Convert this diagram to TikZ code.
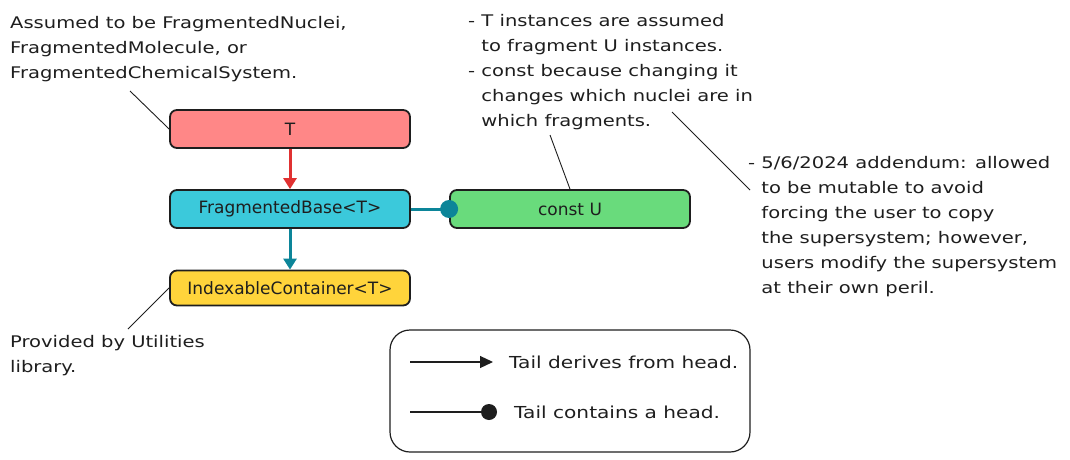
\documentclass[tikz,border=0pt]{standalone}
\usepackage{fontspec}
\setmainfont{DejaVu Sans}
\newfontfamily\notefont[FakeStretch=1.22]{DejaVu Sans}
\usetikzlibrary{arrows.meta}
\definecolor{ink}{HTML}{1E1E1E}
\definecolor{redfill}{HTML}{FF8787}
\definecolor{redline}{HTML}{E03131}
\definecolor{cyanfill}{HTML}{3BC9DB}
\definecolor{greenfill}{HTML}{69DB7C}
\definecolor{yellowfill}{HTML}{FFD43B}
\definecolor{tealline}{HTML}{0C8599}
\tikzset{
  txt/.style={font=\notefont\fontsize{16}{25}\selectfont, text=ink},
  boxnode/.style={draw=ink, line width=1.8pt, rounded corners=7pt, minimum width=240pt,
     minimum height=38pt, inner sep=0pt, font=\fontsize{17}{20}\selectfont, text=ink},
  note/.style={txt, anchor=north west, align=left, inner sep=0pt},
  leader/.style={draw=ink, line width=0.9pt},
  derives/.style={line width=3pt, -{Triangle[length=11pt,width=13pt]}},
}
\begin{document}
\begin{tikzpicture}[x=1pt,y=-1pt]
\useasboundingbox (0,0) rectangle (1070,460);
% boxes
\node[boxnode, fill=redfill] (T) at (290,129) {T};
\node[boxnode, fill=cyanfill] (FB) at (290,209) {FragmentedBase<T>};
\node[boxnode, fill=greenfill] (U) at (570,209) {const U};
\node[boxnode, fill=yellowfill, minimum height=35pt] (IC) at (290,288) {IndexableContainer<T>};
% arrows
\draw[derives, draw=redline, fill=redline] (T.south) -- (FB.north);
\draw[derives, draw=tealline, fill=tealline] (FB.south) -- (IC.north);
\draw[line width=3pt, draw=tealline] (FB.east) -- (U.west);
\fill[tealline] (U.west) circle (9pt);
% notes
\node[note] (n1) at (10,16) {Assumed to be FragmentedNuclei,\\FragmentedMolecule, or\\FragmentedChemicalSystem.};
\node[note] (n2) at (468,14) {- T instances are assumed\\\phantom{- }to fragment U instances.\\- const because changing it\\\phantom{- }changes which nuclei are in\\\phantom{- }which fragments.};
\node[note] (n3) at (748,156) {- 5/6/2024 addendum: allowed\\\phantom{- }to be mutable to avoid\\\phantom{- }forcing the user to copy\\\phantom{- }the supersystem; however,\\\phantom{- }users modify the supersystem\\\phantom{- }at their own peril.};
\node[note] (n4) at (10,335) {Provided by Utilities\\library.};
% leaders
\coordinate (c1) at (130,91);
\draw[leader] (c1) -- (T.west);
\coordinate (c2) at (550,135);
\draw[leader] (c2) -- (U.north);
\coordinate (c3) at (672,112);
\coordinate (c4) at (750,190);
\draw[leader] (c3) -- (c4);
\coordinate (c5) at (128,329);
\draw[leader] (c5) -- (IC.west);
% legend
\node[draw=ink, line width=1.2pt, rounded corners=20pt, minimum width=360pt, minimum height=122pt] (L) at (570,391) {};
\coordinate (la) at (410,362);
\coordinate (lb) at (493,362);
\draw[ink, line width=1.2pt, -{Triangle[length=13pt,width=12pt]}] (la) -- (lb);
\node[txt, anchor=west, inner sep=0pt, font=\notefont\fontsize{16.5}{20}\selectfont] (lt1) at (509,362) {Tail derives from head.};
\coordinate (lc) at (410,412);
\coordinate (ld) at (489,412);
\draw[ink, line width=1.2pt] (lc) -- (ld);
\fill[ink] (ld) circle (8pt);
\node[txt, anchor=west, inner sep=0pt, font=\notefont\fontsize{16.5}{20}\selectfont] (lt2) at (514,412) {Tail contains a head.};
\end{tikzpicture}
\end{document}
